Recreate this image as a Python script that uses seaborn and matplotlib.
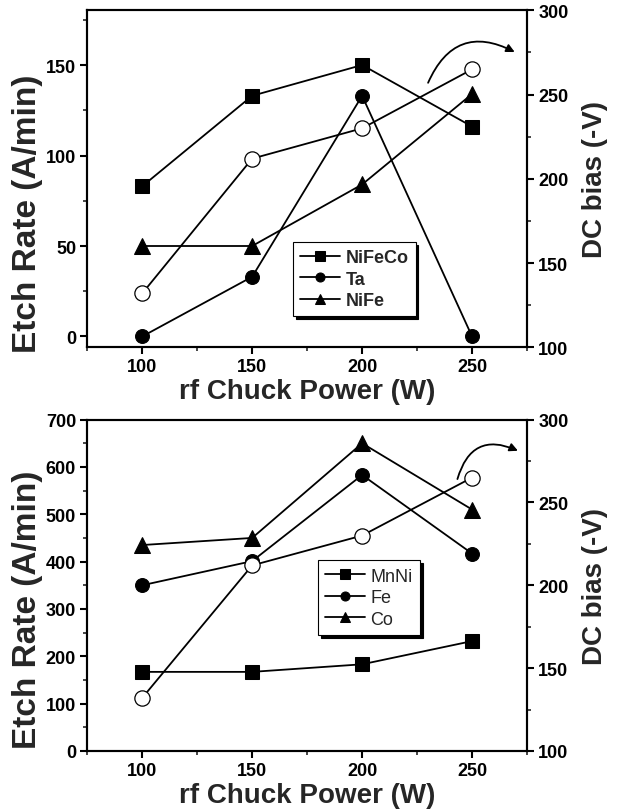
import matplotlib
matplotlib.use("Agg")
import matplotlib.pyplot as plt
import seaborn as sns
from matplotlib.ticker import MultipleLocator

sns.set_style("ticks")
plt.rcParams['font.family'] = ['Liberation Sans', 'DejaVu Sans']

power = [100, 150, 200, 250]

# Top panel
nifeco = [83, 133, 150, 116]
ta = [0, 33, 133, 0]
nife = [50, 50, 84, 134]
dc_bias_top = [132, 212, 230, 265]

# Bottom panel
mnni = [167, 167, 183, 232]
fe = [350, 401, 583, 417]
co = [435, 450, 650, 510]
dc_bias_bottom = [132, 212, 230, 265]

fig = plt.figure(figsize=(6.23, 8.12), dpi=100)
ax1 = fig.add_axes([0.140, 0.571, 0.706, 0.415])
ax2 = fig.add_axes([0.140, 0.074, 0.706, 0.408])

lw = 1.3


def style_axes(ax, axr, ylim, ymaj, ymin_, ylabel_y):
    ax.set_xlim(75, 275)
    ax.set_ylim(*ylim)
    axr.set_ylim(100, 300)
    ax.xaxis.set_major_locator(MultipleLocator(50))
    ax.xaxis.set_minor_locator(MultipleLocator(25))
    ax.yaxis.set_major_locator(MultipleLocator(ymaj))
    ax.yaxis.set_minor_locator(MultipleLocator(ymin_))
    axr.yaxis.set_major_locator(MultipleLocator(50))
    axr.yaxis.set_minor_locator(MultipleLocator(25))
    for a in (ax, axr):
        for s in a.spines.values():
            s.set_visible(True)
            s.set_linewidth(1.5)
            s.set_color('black')
        a.tick_params(which='major', direction='out', length=5, width=1.5,
                      labelsize=13, colors='black', pad=3)
        a.tick_params(which='minor', direction='out', length=3, width=1.2)
    ax.tick_params(axis='y', which='both', right=False)
    ax.tick_params(axis='x', which='both', top=False)
    axr.tick_params(axis='y', which='both', left=False, right=True)
    for lab in ax.get_xticklabels() + ax.get_yticklabels() + axr.get_yticklabels():
        lab.set_fontweight('bold')
    ax.set_xlabel('rf Chuck Power (W)', fontsize=20, fontweight='bold', labelpad=2)
    ax.set_ylabel('Etch Rate (A/min)', fontsize=24, fontweight='bold')
    ax.yaxis.set_label_coords(-0.10, ylabel_y)
    axr.set_ylabel('DC bias (-V)', fontsize=20, fontweight='bold', labelpad=10)


def draw(ax, series, labels, dc, legend_bbox, bold, arrow):
    markers = ['s', 'o', '^']
    sizes = [10, 10, 11.5]
    for vals, lab, m, ms in zip(series, labels, markers, sizes):
        sns.lineplot(x=power, y=vals, ax=ax, color='black', linewidth=lw,
                     marker=m, markersize=ms, markeredgecolor='black',
                     markerfacecolor='black', label=lab)
    axr = ax.twinx()
    sns.lineplot(x=power, y=dc, ax=axr, color='black', linewidth=lw,
                 marker='o', markersize=11, markerfacecolor='white',
                 markeredgecolor='black', markeredgewidth=0.9, legend=False)
    leg = ax.legend(loc='lower left', bbox_to_anchor=legend_bbox,
                    frameon=True, fancybox=False,
                    shadow={'color': 'black', 'alpha': 1.0},
                    handlelength=2.2, handletextpad=0.3, labelspacing=0.25,
                    borderpad=0.4, borderaxespad=0.0,
                    prop={'size': 13, 'weight': 'bold' if bold else 'normal'},
                    markerscale=0.65)
    leg.get_frame().set_edgecolor('black')
    leg.get_frame().set_linewidth(0.8)
    leg.set_zorder(10)
    (x0, y0), (x1, y1), rad = arrow
    axr.annotate('', xy=(x1, y1), xytext=(x0, y0),
                 arrowprops=dict(arrowstyle='-|>', color='black', lw=1.3,
                                 mutation_scale=12,
                                 connectionstyle=f'arc3,rad={rad}'))
    return axr


axr1 = draw(ax1, [nifeco, ta, nife], ['NiFeCo', 'Ta', 'NiFe'], dc_bias_top,
            (0.468, 0.092), True, ((229.5, 255.5), (270.5, 274.5), -0.55))
style_axes(ax1, axr1, (-6, 180.2), 50, 25, 0.40)

axr2 = draw(ax2, [mnni, fe, co], ['MnNi', 'Fe', 'Co'], dc_bias_bottom,
            (0.525, 0.35), False, ((243, 262.5), (272, 280.5), -0.6))
style_axes(ax2, axr2, (0, 700), 100, 50, 0.43)

fig.savefig('out.png', dpi=100)
